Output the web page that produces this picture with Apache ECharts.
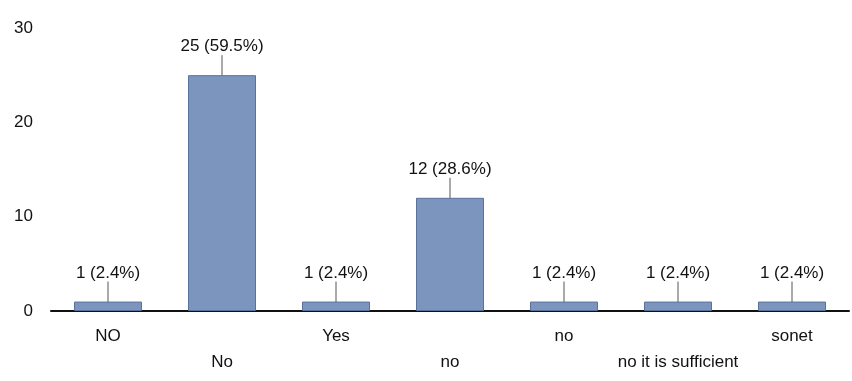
<!DOCTYPE html>
<html><head><meta charset="utf-8">
<script src="https://cdn.jsdelivr.net/npm/echarts@6/dist/echarts.min.js"></script>
<style>html,body{margin:0;padding:0;background:#fff}#c{width:852px;height:381px}</style>
</head><body><div id="c"></div>
<script>
const categories = ['NO', 'No', 'Yes', 'no', 'no', 'no it is sufficient', 'sonet'];
const counts = [1, 25, 1, 12, 1, 1, 1];
const percents = ['2.4%', '59.5%', '2.4%', '28.6%', '2.4%', '2.4%', '2.4%'];
const yTicks = [0, 10, 20, 30];

const FONT = 'Liberation Sans, Arial, sans-serif';
const chart = echarts.init(document.getElementById('c'));
chart.setOption({
  animation: false,
  backgroundColor: '#fff',
  grid: {left: 51, right: 3, top: 28, bottom: 70},
  xAxis: {
    type: 'category',
    data: categories,
    axisLine: {lineStyle: {color: '#111', width: 2}},
    axisTick: {show: false},
    axisLabel: {
      interval: 0, margin: 12,
      color: '#111', fontFamily: FONT, fontSize: 17, lineHeight: 26,
      formatter: (v, i) => (i % 2 === 1 ? '\n' + v : v)
    }
  },
  yAxis: {
    type: 'value', min: yTicks[0], max: yTicks[yTicks.length - 1], interval: 10,
    splitLine: {show: false}, axisLine: {show: false}, axisTick: {show: false},
    axisLabel: {margin: 18, color: '#111', fontFamily: FONT, fontSize: 17}
  },
  series: [{
    type: 'bar',
    data: counts,
    barWidth: 68,
    itemStyle: {color: '#7b95bf', borderColor: '#5a7199', borderWidth: 1},
    label: {
      show: true, position: 'top', distance: 4,
      color: '#111', fontFamily: FONT, fontSize: 17,
      formatter: p => counts[p.dataIndex] + ' (' + percents[p.dataIndex] + ')'
    },
    labelLayout: {dy: -16},
    labelLine: {show: true, lineStyle: {color: '#555', width: 1}}
  }]
});
</script></body></html>
